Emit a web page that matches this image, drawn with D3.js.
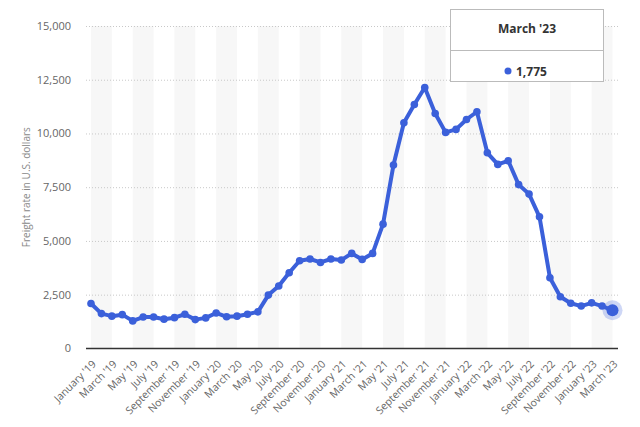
<!DOCTYPE html>
<html><head><meta charset="utf-8">
<script src="https://cdn.jsdelivr.net/npm/d3@7"></script>
<style>
html,body{margin:0;padding:0;background:#fff;}
svg{display:block;font-family:"Open Sans",sans-serif;}
</style></head>
<body>
<svg id="c" width="640" height="427"></svg>
<script>
const months = ["January '19","February '19","March '19","April '19","May '19","June '19","July '19","August '19","September '19","October '19","November '19","December '19",
"January '20","February '20","March '20","April '20","May '20","June '20","July '20","August '20","September '20","October '20","November '20","December '20",
"January '21","February '21","March '21","April '21","May '21","June '21","July '21","August '21","September '21","October '21","November '21","December '21",
"January '22","February '22","March '22","April '22","May '22","June '22","July '22","August '22","September '22","October '22","November '22","December '22",
"January '23","February '23","March '23"];
const rates = [2090,1620,1500,1570,1280,1460,1460,1360,1430,1590,1340,1420,
1650,1470,1500,1590,1700,2480,2900,3520,4080,4160,4000,4160,
4110,4420,4140,4420,5780,8530,10500,11350,12140,10930,10050,10190,
10650,11010,9100,8560,8730,7620,7180,6120,3290,2400,2100,1970,
2120,1970,1775];
const tickLabels = months.filter((m,i)=>i%2===0);
const yTicks = [0,2500,5000,7500,10000,12500,15000];
const yTitle = "Freight rate in U.S. dollars";
const tipTitle = "March '23";
const tipValue = "1,775";

const svg = d3.select("#c");
const plotL = 86, plotR = 618;
const x = d3.scalePoint().domain(months).range([91, 612.5]);
const y = d3.scaleLinear().domain([0,15000]).range([348.4, 26]);
const step = x.step();
const blue = "#3b60da";

// bands
const bandG = svg.append("g");
months.forEach((m,i)=>{
  if (i%4===0) {
    const x0 = x(m);
    const x1 = i+2 < months.length ? x(months[i+2]) : x(m)+2*step;
    bandG.append("rect").attr("x",x0).attr("y",y(15000)).attr("width",x1-x0).attr("height",y(0)-y(15000)).attr("fill","#f7f7f7");
  }
});

// grid
const yAxis = d3.axisLeft(y).tickValues(yTicks).tickFormat(d3.format(",")).tickSize(-(plotR-plotL)).tickPadding(15);
const gy = svg.append("g").attr("transform",`translate(${plotL},0)`).call(yAxis);
gy.select(".domain").remove();
gy.selectAll(".tick line").attr("stroke","#c8c8c8").attr("stroke-dasharray","1,2").attr("stroke-width",1);
gy.selectAll(".tick text").attr("fill","#666").attr("font-size","11px").attr("font-family","Open Sans, sans-serif");
gy.selectAll(".tick").filter(d=>d===0).select("line").remove();

// x axis
const xAxis = d3.axisBottom(x).tickValues(tickLabels).tickSize(0).tickPadding(6);
const gx = svg.append("g").attr("transform",`translate(0,${y(0)})`).call(xAxis);
gx.select(".domain").remove();
gx.selectAll(".tick text").attr("fill","#666").attr("font-size","10.5px").attr("font-family","Open Sans, sans-serif")
  .attr("text-anchor","end").attr("dy",0).attr("transform","translate(1,12) rotate(-45)");
svg.append("line").attr("x1",plotL).attr("x2",plotR).attr("y1",y(0)).attr("y2",y(0)).attr("stroke","#333").attr("stroke-width",1.5);

// y title
svg.append("text").attr("transform",`translate(30,${(y(0)+y(15000))/2}) rotate(-90)`).attr("text-anchor","middle")
  .attr("fill","#888").attr("font-size","10px").text(yTitle);

// line
const line = d3.line().x((d,i)=>x(months[i])).y(d=>y(d));
svg.append("path").datum(rates).attr("d",line).attr("fill","none").attr("stroke",blue).attr("stroke-width",4).attr("stroke-linejoin","round");
svg.append("g").selectAll("circle").data(rates).join("circle")
  .attr("cx",(d,i)=>x(months[i])).attr("cy",d=>y(d)).attr("r",3.8).attr("fill",blue);
const last = rates.length-1;
svg.append("circle").attr("cx",x(months[last])).attr("cy",y(rates[last])).attr("r",10).attr("fill",blue).attr("opacity",0.25);
svg.append("circle").attr("cx",x(months[last])).attr("cy",y(rates[last])).attr("r",6).attr("fill",blue);

// tooltip
const tip = svg.append("g");
tip.append("rect").attr("x",450.5).attr("y",9.5).attr("width",153).attr("height",72).attr("fill","#fff").attr("stroke","#bbb").attr("stroke-width",1);
tip.append("line").attr("x1",450.5).attr("x2",603.5).attr("y1",50.5).attr("y2",50.5).attr("stroke","#bbb");
tip.append("text").attr("x",527).attr("y",32.5).attr("text-anchor","middle").attr("font-size","12px").attr("font-weight","bold").attr("fill","#333").text(tipTitle);
tip.append("circle").attr("cx",508).attr("cy",71).attr("r",3.5).attr("fill",blue);
tip.append("text").attr("x",516).attr("y",75.5).attr("font-size","12px").attr("font-weight","bold").attr("fill","#333").text(tipValue);
</script>
</body></html>
